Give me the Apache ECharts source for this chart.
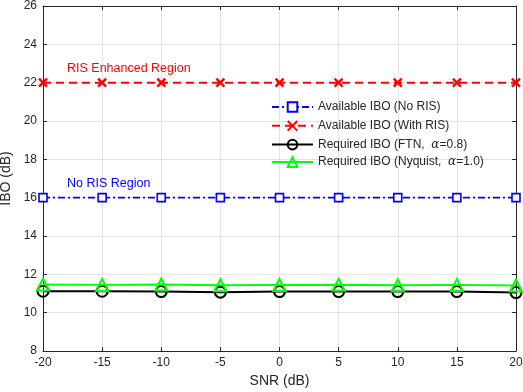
<!DOCTYPE html>
<html>
<head>
<meta charset="utf-8">
<script src="https://cdn.jsdelivr.net/npm/echarts@6/dist/echarts.min.js"></script>
<style>
  html, body { margin: 0; padding: 0; background: #fff; }
  #main { width: 523px; height: 392px; }
</style>
</head>
<body>
<div id="main"></div>
<script>
// SNR points (dB)
var snr = [-20, -15, -10, -5, 0, 5, 10, 15, 20];
// IBO values (dB)
var iboNoRis = [16, 16, 16, 16, 16, 16, 16, 16, 16];
var iboWithRis = [22, 22, 22, 22, 22, 22, 22, 22, 22];
var iboFtn = [11.12, 11.12, 11.1, 11.07, 11.1, 11.1, 11.1, 11.1, 11.05];
var iboNyquist = [11.47, 11.45, 11.47, 11.43, 11.45, 11.46, 11.43, 11.45, 11.42];

var legendNames = [
  'Available IBO (No RIS)',
  'Available IBO (With RIS)',
  'Required IBO (FTN, α=0.8)',
  'Required IBO (Nyquist, α=1.0)'
];

function pairs(ys) {
  return snr.map(function (x, i) { return [x, ys[i]]; });
}

var font = 'Liberation Sans, Arial, sans-serif';
var chart = echarts.init(document.getElementById('main'), null, { renderer: 'canvas' });

var axisCommon = {
  axisLine: { show: true, onZero: false, lineStyle: { color: '#262626', width: 1 } },
  axisTick: { show: true, inside: true, length: 4, lineStyle: { color: '#262626' } },
  axisLabel: { color: '#262626', fontFamily: font, fontSize: 12 },
  splitLine: { show: true, lineStyle: { color: '#e3e3e3', width: 1 } }
};

var option = {
  backgroundColor: '#ffffff',
  animation: false,
  grid: { left: 43, right: 7, top: 6, bottom: 41, containLabel: false, outerBoundsMode: 'none' },
  xAxis: [
    Object.assign({}, axisCommon, {
      type: 'value', min: -20, max: 20, interval: 5,
      name: 'SNR (dB)', nameLocation: 'middle', nameGap: 23,
      nameTextStyle: { color: '#262626', fontFamily: font, fontSize: 14 },
      axisLabel: { color: '#262626', fontFamily: font, fontSize: 12, margin: 6 }
    }),
    {
      type: 'value', min: -20, max: 20, interval: 5, position: 'top',
      axisLine: { show: true, onZero: false, lineStyle: { color: '#262626' } },
      axisTick: { show: true, inside: true, length: 4, lineStyle: { color: '#262626' } },
      axisLabel: { show: false }, splitLine: { show: false }
    }
  ],
  yAxis: [
    Object.assign({}, axisCommon, {
      type: 'value', min: 8, max: 26, interval: 2,
      name: 'IBO (dB)', nameLocation: 'middle', nameGap: 15, nameRotate: 90,
      nameTextStyle: { color: '#262626', fontFamily: font, fontSize: 14 },
      axisLabel: { color: '#262626', fontFamily: font, fontSize: 12, margin: 6 }
    }),
    {
      type: 'value', min: 8, max: 26, interval: 2, position: 'right',
      axisLine: { show: true, onZero: false, lineStyle: { color: '#262626' } },
      axisTick: { show: true, inside: true, length: 4, lineStyle: { color: '#262626' } },
      axisLabel: { show: false }, splitLine: { show: false }
    }
  ],
  legend: {
    orient: 'vertical',
    left: 266,
    top: 96,
    itemWidth: 41,
    itemHeight: 12,
    itemGap: 5.5,
    data: legendNames,
    textStyle: {
      color: '#262626', fontFamily: font, fontSize: 12,
      rich: {
        a: { fontStyle: 'italic', fontFamily: 'DejaVu Serif, serif', fontSize: 12, color: '#262626' }
      }
    },
    formatter: function (name) {
      return name.replace(/,\s*α/, ',  {a|α}');
    }
  },
  graphic: [
    { type: 'text', left: 67, top: 62, z: 100,
      style: { text: 'RIS Enhanced Region', fill: '#ff0000', font: '12.5px ' + font } },
    { type: 'text', left: 67, top: 177, z: 100,
      style: { text: 'No RIS Region', fill: '#0000ff', font: '12.5px ' + font } }
  ],
  series: [
    {
      name: legendNames[0], type: 'line', data: pairs(iboNoRis),
      symbol: 'rect', symbolSize: 8, showAllSymbol: true,
      lineStyle: { color: '#0000ff', width: 1.6, type: [7, 3, 2, 3] },
      itemStyle: { color: '#ffffff', borderColor: '#0000ff', borderWidth: 1.6 },
      z: 3
    },
    {
      name: legendNames[1], type: 'line', data: pairs(iboWithRis),
      symbol: 'path://M0,0 L10,10 M10,0 L0,10', symbolSize: 8,
      lineStyle: { color: '#ff0000', width: 2, type: [8, 5] },
      itemStyle: { color: 'none', borderColor: '#ff0000', borderWidth: 2.4 },
      z: 3
    },
    {
      name: legendNames[2], type: 'line', data: pairs(iboFtn),
      symbol: 'circle', symbolSize: 11,
      lineStyle: { color: '#000000', width: 2 },
      itemStyle: { color: 'rgba(0,0,0,0)', borderColor: '#000000', borderWidth: 2 },
      z: 3
    },
    {
      name: legendNames[3], type: 'line', data: pairs(iboNyquist),
      symbol: 'triangle', symbolSize: 12,
      lineStyle: { color: '#00ff00', width: 2 },
      itemStyle: { color: 'rgba(0,0,0,0)', borderColor: '#00ff00', borderWidth: 2 },
      z: 4
    }
  ]
};

chart.setOption(option);
</script>
</body>
</html>
